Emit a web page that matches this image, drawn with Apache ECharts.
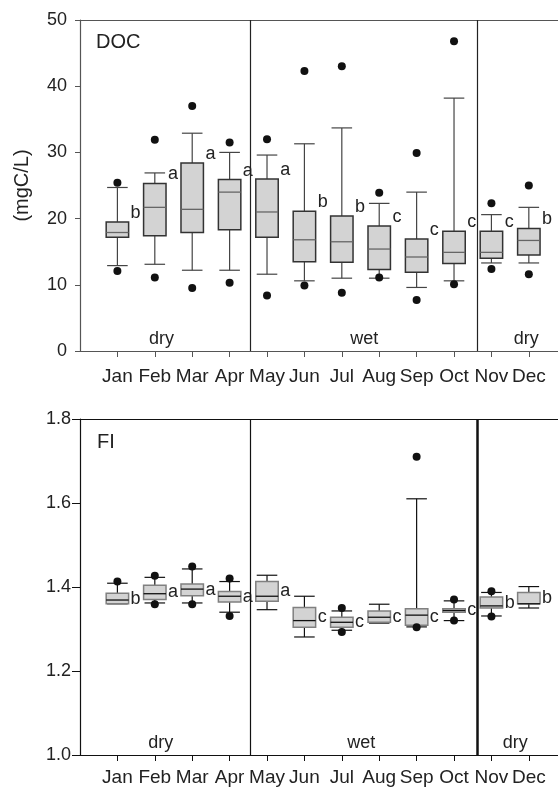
<!DOCTYPE html>
<html>
<head>
<meta charset="utf-8">
<script src="https://cdn.jsdelivr.net/npm/echarts@6/dist/echarts.min.js"></script>
<style>
  html, body { margin: 0; padding: 0; background: #fff; }
  #chart { width: 558px; height: 787px; }
</style>
</head>
<body>
<div id="chart"></div>
<script>
var months = ['Jan', 'Feb', 'Mar', 'Apr', 'May', 'Jun', 'Jul', 'Aug', 'Sep', 'Oct', 'Nov', 'Dec'];

// DOC (mgC/L)
var docMin = [12.9, 13.1, 12.2, 12.2, 11.6, 10.6, 11.0, 11.0, 9.6, 10.6, 13.3, 13.3];
var docQ1 = [17.2, 17.4, 17.9, 18.3, 17.2, 13.5, 13.4, 12.3, 11.9, 13.2, 14.0, 14.5];
var docMed = [17.9, 21.7, 21.4, 24.0, 21.0, 16.8, 16.5, 15.4, 14.2, 14.9, 14.9, 16.7];
var docQ3 = [19.5, 25.3, 28.4, 25.9, 26.0, 21.1, 20.4, 18.9, 16.9, 18.1, 18.1, 18.5];
var docMax = [24.7, 26.9, 32.9, 30.0, 29.6, 31.3, 33.7, 22.3, 24.0, 38.2, 20.6, 21.7];
var docOutLow = [12.1, 11.1, 9.5, 10.3, 8.4, 9.9, 8.8, 11.1, 7.7, 10.1, 12.4, 11.6];
var docOutHigh = [25.4, 31.9, 37.0, 31.5, 32.0, 42.3, 43.0, 23.9, 29.9, 46.8, 22.3, 25.0];
var docLetters = ['b', 'a', 'a', 'a', 'a', 'b', 'b', 'c', 'c', 'c', 'c', 'b'];

// FI
var fiMin = [1.360, 1.362, 1.362, 1.340, 1.346, 1.281, 1.297, 1.314, 1.305, 1.320, 1.331, 1.350];
var fiQ1 = [1.360, 1.370, 1.379, 1.364, 1.366, 1.304, 1.304, 1.316, 1.309, 1.340, 1.350, 1.360];
var fiMed = [1.369, 1.384, 1.395, 1.378, 1.378, 1.320, 1.316, 1.328, 1.333, 1.344, 1.355, 1.360];
var fiQ3 = [1.385, 1.404, 1.407, 1.389, 1.413, 1.351, 1.328, 1.343, 1.348, 1.348, 1.376, 1.387];
var fiMax = [1.409, 1.423, 1.443, 1.413, 1.428, 1.378, 1.343, 1.359, 1.610, 1.367, 1.387, 1.401];
var fiOutLow = [null, 1.359, 1.359, 1.331, null, null, 1.293, null, 1.304, 1.320, 1.330, null];
var fiOutHigh = [1.413, 1.427, 1.449, 1.420, null, null, 1.350, null, 1.710, 1.370, 1.390, null];
var fiLetters = ['b', 'a', 'a', 'a', 'a', 'c', 'c', 'c', 'c', 'c', 'b', 'b'];

// season boundaries and labels (month positions)
var seasonBreaks = [4.54, 10.63];
var seasonNames = ['dry', 'wet', 'dry'];
var docSeasonX = [2.18, 7.6, 11.93];
var fiSeasonX = [2.16, 7.52, 11.64];

var monthPos = months.map(function (m, i) { return i + 1; });

function boxData(mn, q1, md, q3, mx) {
  return monthPos.map(function (x, i) { return [x, mn[i], q1[i], md[i], q3[i], mx[i]]; });
}
function outData(lo, hi) {
  var out = [];
  monthPos.forEach(function (x, i) {
    if (lo[i] != null) out.push([x, lo[i]]);
    if (hi[i] != null) out.push([x, hi[i]]);
  });
  return out;
}

function boxRenderer(letters, st) {
  return function (params, api) {
    var x = api.value(0);
    var pMin = api.coord([x, api.value(1)]);
    var pQ1 = api.coord([x, api.value(2)]);
    var pMed = api.coord([x, api.value(3)]);
    var pQ3 = api.coord([x, api.value(4)]);
    var pMax = api.coord([x, api.value(5)]);
    var half = api.size([0.6, 0])[0] / 2;
    var cap = api.size([0.55, 0])[0] / 2;
    var cx = pMed[0];
    var wl = { stroke: st.whisker, lineWidth: 1.2 };
    var labelY = st.letterMid ? (pQ1[1] + pQ3[1]) / 2 : pQ3[1];
    return {
      type: 'group',
      children: [
        { type: 'line', shape: { x1: cx, y1: pQ3[1], x2: cx, y2: pMax[1] }, style: wl },
        { type: 'line', shape: { x1: cx - cap, y1: pMax[1], x2: cx + cap, y2: pMax[1] }, style: wl },
        { type: 'line', shape: { x1: cx, y1: pQ1[1], x2: cx, y2: pMin[1] }, style: wl },
        { type: 'line', shape: { x1: cx - cap, y1: pMin[1], x2: cx + cap, y2: pMin[1] }, style: wl },
        { type: 'rect', shape: { x: cx - half, y: pQ3[1], width: half * 2, height: pQ1[1] - pQ3[1] },
          style: { fill: '#d3d3d3', stroke: st.box, lineWidth: 1.5 } },
        { type: 'line', shape: { x1: cx - half, y1: pMed[1], x2: cx + half, y2: pMed[1] },
          style: { stroke: st.median, lineWidth: 1.3 } },
        { type: 'text', x: cx + half + 2, y: labelY,
          style: { text: letters[params.dataIndex], fill: '#222', font: '18px "Liberation Sans"',
            align: 'left', verticalAlign: st.letterMid ? 'middle' : 'bottom' } }
      ]
    };
  };
}

function seasonData(xs, y) {
  return xs.map(function (x) { return [x, y]; });
}
function seasonRenderer(params, api) {
  var p = api.coord([api.value(0), api.value(1)]);
  return {
    type: 'text', x: p[0], y: p[1] - 3,
    style: { text: seasonNames[params.dataIndex], fill: '#222', font: '18px "Liberation Sans"',
      align: 'center', verticalAlign: 'bottom' }
  };
}

var xBase = {
  type: 'value', min: 0, max: 12.78,
  splitLine: { show: false },
  axisTick: { length: 6, customValues: monthPos },
  axisLabel: {
    customValues: monthPos, fontSize: 19, color: '#222',
    formatter: function (v) { return months[Math.round(v) - 1] || ''; }
  }
};

var chart = echarts.init(document.getElementById('chart'));
chart.setOption({
  animation: false,
  textStyle: { fontFamily: 'Liberation Sans' },
  title: [
    { text: 'DOC', left: 96, top: 32, padding: 0, textStyle: { fontSize: 20, fontWeight: 'normal', color: '#222' } },
    { text: 'FI', left: 97, top: 432, padding: 0, textStyle: { fontSize: 20, fontWeight: 'normal', color: '#222' } }
  ],
  grid: [
    { left: 80, top: 20, right: 0, height: 331 },
    { left: 80, top: 419, right: 0, height: 336 }
  ],
  xAxis: [
    Object.assign({}, xBase, {
      gridIndex: 0,
      axisLine: { lineStyle: { color: '#555', width: 1.2 } },
      axisTick: { length: 6, customValues: monthPos, lineStyle: { color: '#555' } },
      axisLabel: Object.assign({}, xBase.axisLabel, { margin: 16 })
    }),
    Object.assign({}, xBase, {
      gridIndex: 1,
      axisLine: { lineStyle: { color: '#111', width: 1.2 } },
      axisTick: { length: 6, customValues: monthPos, lineStyle: { color: '#111' } },
      axisLabel: Object.assign({}, xBase.axisLabel, { margin: 13 })
    }),
    { type: 'value', gridIndex: 0, position: 'top', min: 0, max: 12.78, axisTick: { show: false },
      axisLabel: { show: false }, splitLine: { show: false }, axisLine: { lineStyle: { color: '#555', width: 1.2 } } },
    { type: 'value', gridIndex: 1, position: 'top', min: 0, max: 12.78, axisTick: { show: false },
      axisLabel: { show: false }, splitLine: { show: false }, axisLine: { lineStyle: { color: '#111', width: 1.2 } } }
  ],
  yAxis: [
    {
      type: 'value', gridIndex: 0, min: 0, max: 50, interval: 10,
      name: '(mgC/L)', nameLocation: 'middle', nameGap: 48, nameRotate: 90,
      nameTextStyle: { fontSize: 20, color: '#222' },
      splitLine: { show: false },
      axisLine: { show: true, lineStyle: { color: '#555', width: 1.2 } },
      axisTick: { show: true, length: 5, lineStyle: { color: '#555' } },
      axisLabel: { fontSize: 18, color: '#222', margin: 13 }
    },
    {
      type: 'value', gridIndex: 1, min: 1.0, max: 1.8, interval: 0.2,
      splitLine: { show: false },
      axisLine: { show: true, lineStyle: { color: '#111', width: 1.2 } },
      axisTick: { show: true, length: 8, lineStyle: { color: '#111' } },
      axisLabel: { fontSize: 18, color: '#222', margin: 9, formatter: function (v) { return v.toFixed(1); } }
    }
  ],
  series: [
    {
      type: 'custom', xAxisIndex: 0, yAxisIndex: 0,
      renderItem: boxRenderer(docLetters, { whisker: '#444', box: '#333', median: '#666', letterMid: false }),
      data: boxData(docMin, docQ1, docMed, docQ3, docMax)
    },
    {
      type: 'scatter', xAxisIndex: 0, yAxisIndex: 0, symbolSize: 8, z: 5,
      itemStyle: { color: '#111', opacity: 1 },
      data: outData(docOutLow, docOutHigh),
      markLine: {
        symbol: 'none', silent: true, label: { show: false },
        lineStyle: { color: '#222', type: 'solid', width: 1.2 },
        data: seasonBreaks.map(function (b) { return { xAxis: b }; })
      }
    },
    {
      type: 'custom', xAxisIndex: 0, yAxisIndex: 0, silent: true, clip: false,
      renderItem: seasonRenderer,
      data: seasonData(docSeasonX, 0)
    },
    {
      type: 'custom', xAxisIndex: 1, yAxisIndex: 1,
      renderItem: boxRenderer(fiLetters, { whisker: '#111', box: '#808080', median: '#111', letterMid: true }),
      data: boxData(fiMin, fiQ1, fiMed, fiQ3, fiMax)
    },
    {
      type: 'scatter', xAxisIndex: 1, yAxisIndex: 1, symbolSize: 8, z: 5,
      itemStyle: { color: '#111', opacity: 1 },
      data: outData(fiOutLow, fiOutHigh),
      markLine: {
        symbol: 'none', silent: true, label: { show: false },
        lineStyle: { color: '#111', type: 'solid', width: 1.2 },
        data: [
          { xAxis: seasonBreaks[0] },
          { xAxis: seasonBreaks[1], lineStyle: { width: 2.5 } }
        ]
      }
    },
    {
      type: 'custom', xAxisIndex: 1, yAxisIndex: 1, silent: true, clip: false,
      renderItem: seasonRenderer,
      data: seasonData(fiSeasonX, 1.0)
    }
  ]
});
</script>
</body>
</html>
